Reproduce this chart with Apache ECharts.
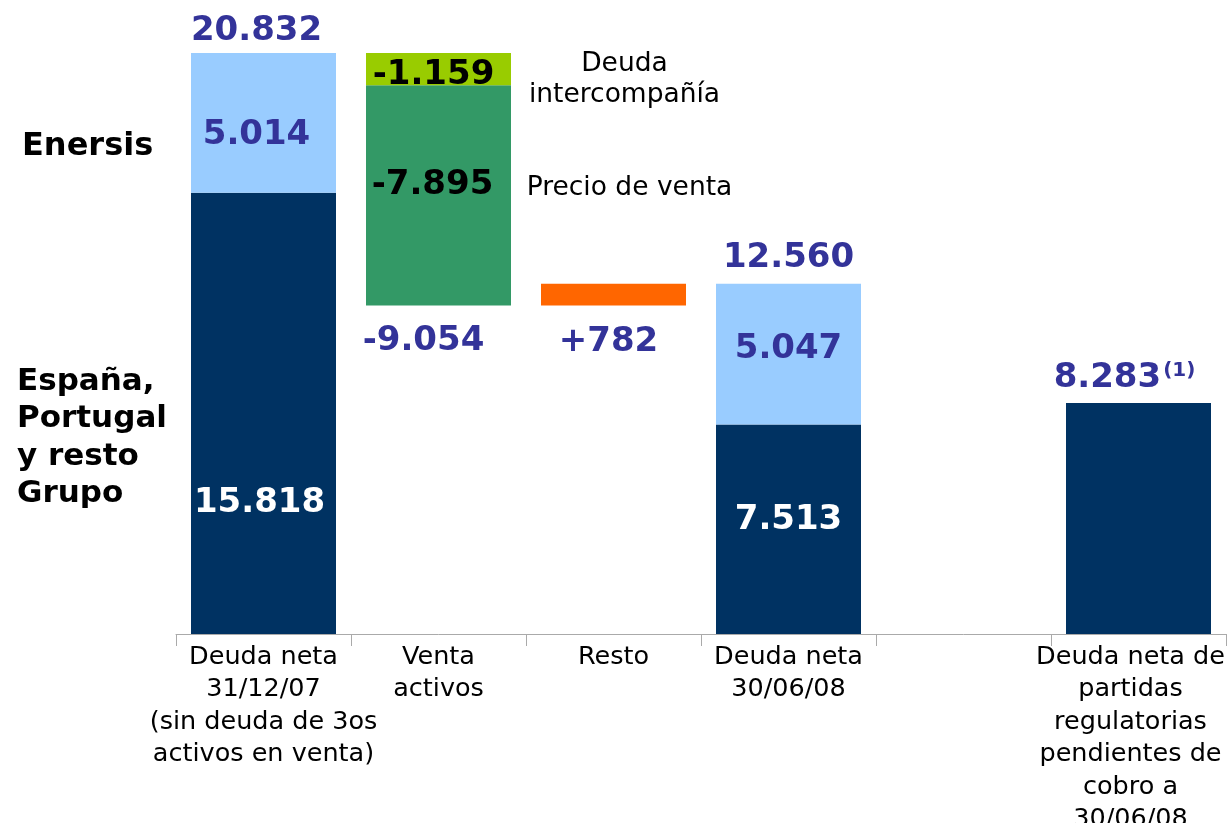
<!DOCTYPE html>
<html>
<head>
<meta charset="utf-8">
<script src="https://cdn.jsdelivr.net/npm/echarts@6/dist/echarts.min.js"></script>
<style>
  html, body { margin: 0; padding: 0; background: #fff; }
  #chart { width: 1231px; height: 823px; }
</style>
</head>
<body>
<div id="chart"></div>
<script>
// categories on the x axis (5th slot is empty in the original slide)
const categories = [
  'Deuda neta\n31/12/07\n(sin deuda de 3os\nactivos en venta)',
  'Venta\nactivos',
  'Resto',
  'Deuda neta\n30/06/08',
  '',
  'Deuda neta de\npartidas\nregulatorias\npendientes de\ncobro a\n30/06/08'
];

// stacked pieces
const espana = [15818, null, null, 7513, null, 8283];
const enersis = [5014, null, null, 5047, null, null];
const precioVenta = [null, -7895, null, null, null, null];
const deudaInter = [null, -1159, null, null, null, null];
const resto = [null, null, 782, null, null, null];

// totals shown above bars / below floating bars
const totals = [20832, -9054, 782, 12560, null, 8283];

const fmt = n => {
  const s = String(Math.abs(n)).replace(/\B(?=(\d{3})+(?!\d))/g, '.');
  return n < 0 ? '-' + s : s;
};

// floating base for the waterfall steps
const startLevel = totals[0];
const afterVenta = startLevel + deudaInter[1] + precioVenta[1];
const base = [null, afterVenta, afterVenta, null, null, null];

const BLUE_TXT = '#333399';
const FONT = 'DejaVu Sans';
const numLabel = {
  fontFamily: FONT,
  fontWeight: 'bold',
  fontSize: 34
};

const chart = echarts.init(document.getElementById('chart'));

const espanaLabelOffsets = [[-4, 90], null, null, [0, -9], null, null];
const enersisLabelOffsets = [[-7, 12], null, null, [0, -5], null, null];

const option = {
  animation: false,
  grid: { left: 176, right: 5, top: 53, bottom: 189, outerBoundsMode: 'none', containLabel: false },
  xAxis: {
    type: 'category',
    data: categories.map((c, i) => (i === 5 ? { value: c, textStyle: { padding: [0, 16, 0, 0] } } : c)),
    axisLine: { lineStyle: { color: '#aaaaaa', width: 1 } },
    axisTick: { show: true, length: 12, interval: 0, lineStyle: { color: '#aaaaaa' } },
    axisLabel: {
      interval: 0,
      color: '#000',
      fontFamily: FONT,
      fontSize: 25.5,
      lineHeight: 32.5,
      margin: 7
    }
  },
  yAxis: { type: 'value', min: 0, max: totals[0], show: false, splitLine: { show: false } },
  graphic: [
    {
      type: 'text', left: 22, top: 131,
      style: { text: 'Enersis', font: 'bold 32px "DejaVu Sans"', fill: '#000' }
    },
    {
      type: 'text', left: 17, top: 363,
      style: {
        text: 'España,\nPortugal\ny resto\nGrupo',
        font: 'bold 31px "DejaVu Sans"', lineHeight: 37.5, fill: '#000'
      }
    }
  ],
  series: [
    {
      name: 'base', type: 'bar', stack: 'w', barWidth: 145,
      itemStyle: { color: 'transparent' },
      data: base
    },
    {
      name: 'España, Portugal y resto Grupo', type: 'bar', stack: 'w', barWidth: 145,
      itemStyle: { color: '#003262' },
      data: espana.map((v, i) => ({
        value: v,
        label: espanaLabelOffsets[i]
          ? { show: true, position: 'inside', offset: espanaLabelOffsets[i], color: '#fff', ...numLabel, formatter: p => fmt(p.value) }
          : { show: false }
      }))
    },
    {
      name: 'Precio de venta', type: 'bar', stack: 'w', barWidth: 145,
      itemStyle: { color: '#339966' },
      data: precioVenta.map(v => (v == null ? null : -v)),
      label: {
        show: true, position: 'inside', offset: [-6, -10], color: '#000', ...numLabel,
        formatter: p => fmt(-p.value)
      }
    },
    {
      name: 'Resto', type: 'bar', stack: 'w', barWidth: 145,
      itemStyle: { color: '#ff6600' },
      data: resto
    },
    {
      name: 'Deuda intercompañía', type: 'bar', stack: 'w', barWidth: 145,
      itemStyle: { color: '#99cc00' },
      data: deudaInter.map(v => (v == null ? null : -v)),
      label: {
        show: true, position: 'inside', offset: [-5, 6], color: '#000', ...numLabel,
        formatter: p => fmt(-p.value)
      }
    },
    {
      name: 'Enersis', type: 'bar', stack: 'w', barWidth: 145,
      itemStyle: { color: '#99ccff' },
      data: enersis.map((v, i) => ({
        value: v,
        label: enersisLabelOffsets[i]
          ? { show: true, position: 'inside', offset: enersisLabelOffsets[i], color: BLUE_TXT, ...numLabel, formatter: p => fmt(p.value) }
          : { show: false }
      }))
    },
    {
      // annotations: totals and side notes
      name: 'notes', type: 'scatter', symbolSize: 0, silent: true,
      z: 10,
      itemStyle: { opacity: 1 },
      data: [
        { value: [0, totals[0]], label: { show: true, position: 'top', distance: 5, offset: [-7, 0], color: BLUE_TXT, ...numLabel, formatter: fmt(totals[0]) } },
        { value: [1, afterVenta], label: { show: true, position: 'bottom', distance: 19, offset: [-15, 0], color: BLUE_TXT, ...numLabel, formatter: fmt(totals[1]) } },
        { value: [2, afterVenta], label: { show: true, position: 'bottom', distance: 20, offset: [-5, 0], color: BLUE_TXT, ...numLabel, formatter: '+' + fmt(totals[2]) } },
        { value: [3, totals[3]], label: { show: true, position: 'top', distance: 9, offset: [0, 0], color: BLUE_TXT, ...numLabel, formatter: fmt(totals[3]) } },
        {
          value: [5, totals[5]],
          label: {
            show: true, position: 'top', distance: 8, offset: [-14, 0],
            formatter: fmt(totals[5]) + '{sup|(1)}',
            color: BLUE_TXT, ...numLabel,
            rich: { sup: { fontFamily: FONT, fontWeight: 'bold', fontSize: 20, color: BLUE_TXT, padding: [0, 0, 14, 2] } }
          }
        },
        {
          value: [1, startLevel + deudaInter[1] / 2],
          label: {
            show: true, position: 'inside', offset: [186, 10], align: 'center',
            formatter: 'Deuda\nintercompañía', color: '#000',
            fontFamily: FONT, fontSize: 26.5, lineHeight: 31
          }
        },
        {
          value: [1, startLevel + deudaInter[1] + precioVenta[1] / 2],
          label: {
            show: true, position: 'inside', offset: [191, -7], align: 'center',
            formatter: 'Precio de venta', color: '#000',
            fontFamily: FONT, fontSize: 26.5
          }
        }
      ]
    }
  ]
};

chart.setOption(option);
window.addEventListener('resize', () => chart.resize());
</script>
</body>
</html>
